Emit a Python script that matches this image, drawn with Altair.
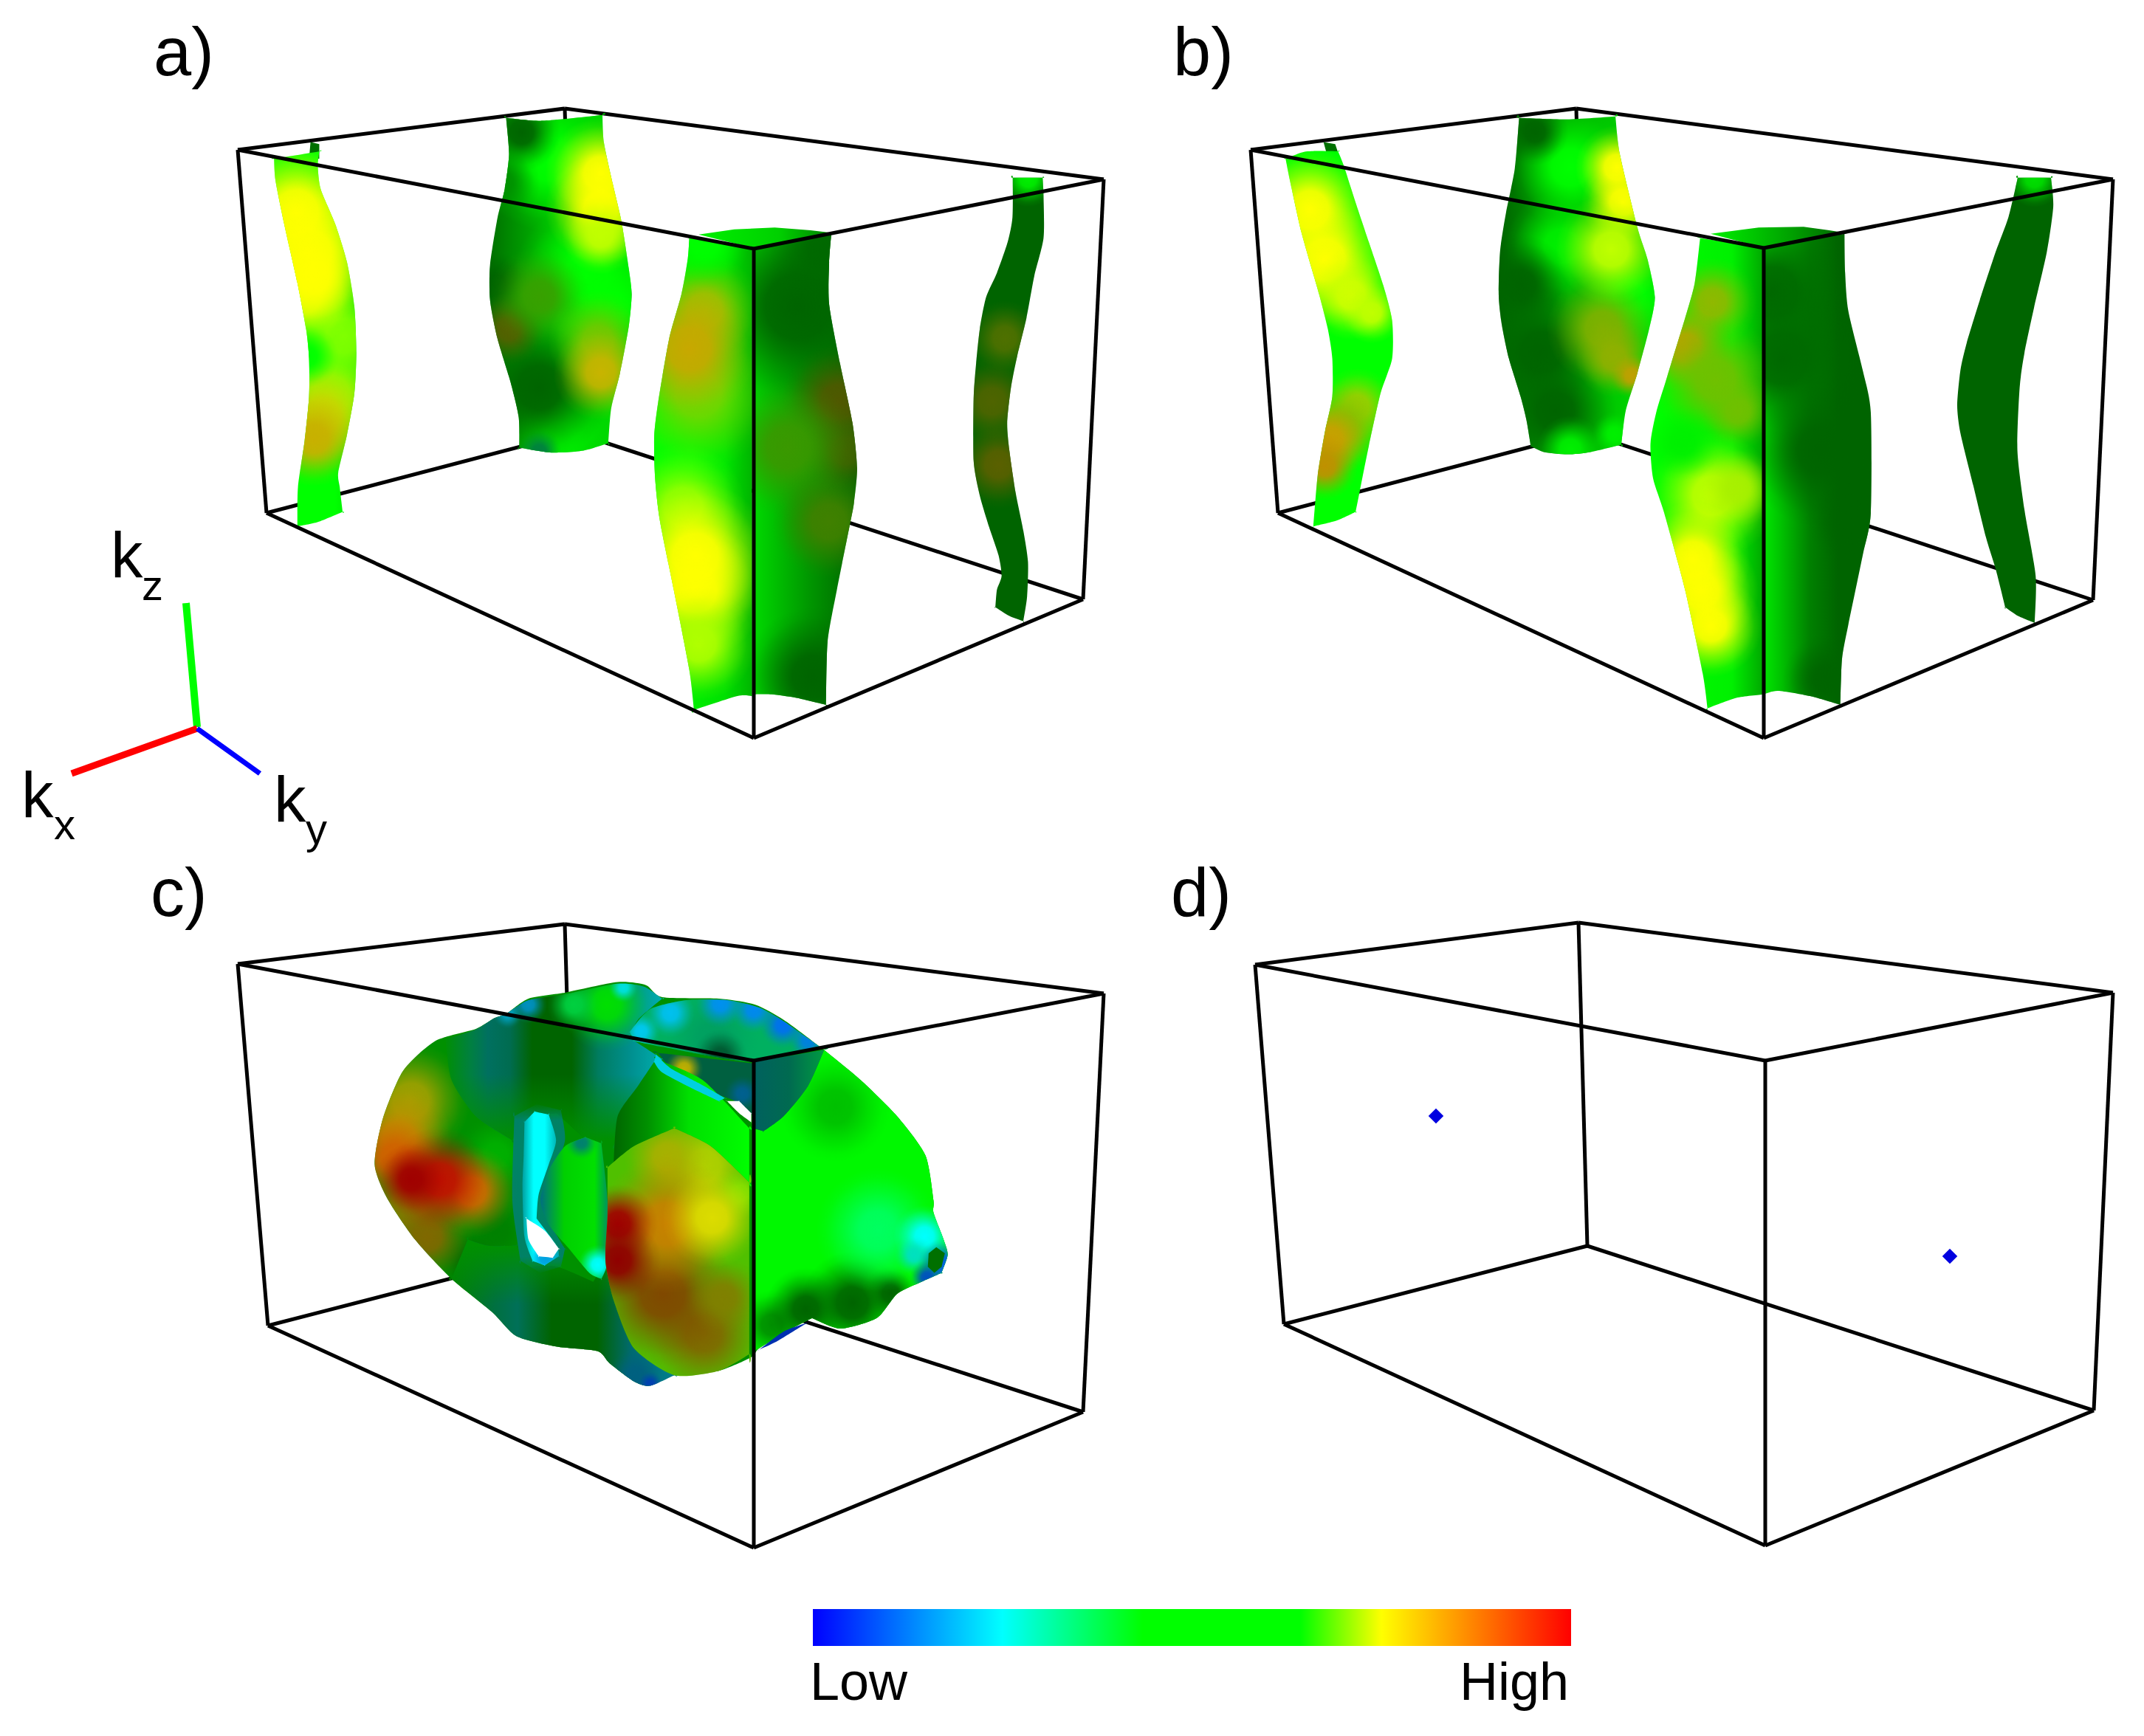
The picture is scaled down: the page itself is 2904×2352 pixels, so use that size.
import altair as alt
import pandas as pd
import math

# crops used while reading: (x0, y0, sx, sy)
C1 = (300, 130, 2.529, 2.529)
C2 = (860, 280, 2.376, 2.119)
C3 = (1680, 130, 2.529, 2.529)
C4 = (2200, 280, 2.306, 2.119)
C5 = (480, 1300, 1.823, 2.45)

# box corners: TL, BT (back top), TR, FT (front top), FB, BL, BB, BR
box_a = dict(TL=(322, 203), BT=(765, 147), TR=(1495, 243), FT=(1021, 337), FB=(1021, 1000), BL=(361, 695), BB=(778, 586), BR=(1467, 812))
box_b = dict(TL=(1694, 203), BT=(2135, 147), TR=(2862, 243), FT=(2389, 336), FB=(2389, 1000), BL=(1731, 695), BB=(2147, 586), BR=(2835, 813))
box_c = dict(TL=(322, 1306), BT=(765, 1252), TR=(1495, 1346), FT=(1021, 1437), FB=(1021, 2097), BL=(363, 1796), BB=(778, 1689), BR=(1467, 1913))
box_d = dict(TL=(1700, 1307), BT=(2138, 1250), TR=(2862, 1345), FT=(2391, 1437), FB=(2391, 2094), BL=(1739, 1794), BB=(2150, 1688), BR=(2836, 1911))
boxes = [box_a, box_b, box_c, box_d]
back_edges = [("TL", "BT"), ("BT", "TR"), ("BT", "BB"), ("BB", "BL"), ("BB", "BR")]
front_edges = [("TL", "FT"), ("FT", "TR"), ("FT", "FB"), ("TL", "BL"), ("TR", "BR"), ("BL", "FB"), ("BR", "FB")]

# ---------- panel a ----------
a1_stub = [(305, 158), (335, 165), (335, 215), (300, 215)]
a1 = [(180, 215), (185, 290), (215, 440), (260, 640), (290, 800), (300, 900), (300, 1030), (285, 1180), (262, 1340), (260, 1475),
      (330, 1460), (415, 1425), (405, 1340), (400, 1290), (430, 1160), (455, 1020), (462, 880), (455, 720), (430, 570), (390, 440),
      (340, 320), (330, 240), (335, 190)]
a1_blobs = [(380, 1020, 110, "#90ff00"), (420, 820, 100, "#80ff00"), (350, 1090, 100, "#c8d800"), (320, 1170, 85, "#c8b000"),
            (290, 690, 90, "#c8ff00"), (260, 400, 130, "#ffff00"), (300, 540, 140, "#ffff00"), (320, 620, 90, "#ffff00"),
            (300, 890, 55, "#00ff00")]
a2 = [(975, 75), (1100, 85), (1305, 65), (1310, 160), (1340, 300), (1370, 430), (1395, 590), (1405, 680), (1395, 790), (1365, 950),
      (1335, 1070), (1325, 1190), (1240, 1215), (1130, 1222), (1020, 1205), (1018, 1100), (990, 980), (945, 830), (920, 700),
      (920, 580), (945, 420), (970, 320), (985, 200)]
a2_blobs = [(1120, 220, 130, "#00ff00"), (1250, 620, 130, "#00ff00"), (1340, 720, 80, "#00ff00"), (1160, 1170, 90, "#00f000"), (1030, 130, 70, "#006400"),
            (960, 300, 70, "#009000"), (1090, 1000, 130, "#006400"), (940, 650, 60, "#006400"), (985, 800, 65, "#556000"), (1090, 690, 90, "#38a000"),
            (1290, 840, 90, "#70c800"), (1300, 950, 85, "#c8b400"), (1300, 270, 100, "#ffff00"), (1300, 390, 100, "#ffff00"), (1300, 480, 70, "#c0ff00"),
            (1090, 1218, 40, "#008040")]
a3_cap = [(205, 80), (320, 65), (450, 60), (565, 68), (635, 75), (377, 118)]
a3_left = [(175, 90), (377, 118), (377, 160), (377, 300), (377, 900), (377, 1300), (377, 1380), (377, 1405), (330, 1405), (190, 1445), (175, 1330), (125, 1100), (80, 900), (65, 780), (62, 660),
           (75, 560), (110, 380), (150, 250), (170, 150)]
a3_left_blobs = [(120, 720, 110, "#00ff00"), (220, 300, 90, "#a0c000"), (200, 540, 120, "#70d800"), (170, 410, 110, "#c8a800"), (150, 860, 100, "#90ff00"),
                 (190, 1000, 120, "#ffff00"), (190, 1100, 110, "#ffff00"), (200, 1250, 90, "#b0ff00"), (220, 110, 70, "#00ff00")]
a3_right = [(377, 118), (632, 78), (625, 160), (625, 280), (660, 450), (700, 620), (715, 750), (705, 850), (690, 920), (650, 1100),
            (620, 1250), (615, 1430), (520, 1410), (440, 1400), (377, 1400), (377, 1380), (377, 1200), (377, 700), (377, 300), (377, 160)]
a3_right_blobs = [(530, 290, 170, "#006400"), (620, 130, 90, "#006800"), (660, 560, 90, "#505800"), (680, 700, 70, "#406000"), (500, 690, 110, "#3a9800"),
                  (630, 900, 90, "#408000"), (580, 1340, 110, "#006400")]
a4 = [(1216, -83), (1215, 30), (1200, 100), (1165, 190), (1130, 260), (1110, 350), (1098, 450), (1090, 550), (1090, 730), (1110, 830),
      (1140, 920), (1170, 1000), (1180, 1060), (1165, 1100), (1160, 1150), (1205, 1175), (1250, 1190), (1262, 1120), (1265, 1020),
      (1250, 930), (1225, 820), (1205, 700), (1198, 620), (1210, 520), (1230, 430), (1260, 320), (1285, 200), (1315, 90), (1315, -30), (1312, -83)]
a4_blobs = [(1190, 380, 60, "#4f7000"), (1150, 560, 70, "#4f6400"), (1170, 740, 70, "#5a6000"), (1265, -75, 45, "#00f000")]

# ---------- panel b ----------
b1_stub = [(285, 158), (325, 165), (335, 195), (295, 195)]
b1 = [(155, 215), (170, 290), (210, 470), (270, 680), (300, 800), (315, 900), (315, 1030), (290, 1150), (265, 1300), (250, 1475),
      (330, 1455), (395, 1425), (410, 1350), (440, 1200), (480, 1020), (520, 900), (520, 770), (490, 650), (440, 500), (390, 350),
      (355, 240), (335, 190), (225, 190)]
b1_blobs = [(240, 390, 110, "#ffff00"), (290, 560, 120, "#ffff00"), (380, 680, 80, "#d0ff00"), (450, 740, 55, "#c0ff00"), (400, 1060, 70, "#a0d000"),
            (350, 1130, 80, "#80c000"), (310, 1170, 70, "#c8a000"), (290, 1260, 60, "#c09000")]
b2 = [(955, 75), (1120, 80), (1285, 70), (1300, 200), (1360, 450), (1395, 560), (1420, 690), (1400, 800), (1360, 950), (1320, 1080), (1305, 1195),
      (1200, 1220), (1120, 1228), (1040, 1220), (995, 1200), (980, 1110), (960, 1030), (920, 900), (895, 780), (885, 680), (890, 530),
      (910, 400), (940, 250)]
b2_blobs = [(1130, 250, 110, "#00ff00"), (1100, 520, 100, "#00f000"), (1330, 690, 90, "#00ff00"), (1010, 130, 60, "#006400"), (960, 650, 90, "#006400"), (1030, 880, 120, "#006400"),
            (1080, 1080, 110, "#006400"), (1240, 800, 100, "#80b000"), (1280, 900, 70, "#90b000"), (1340, 960, 40, "#c0a000"), (1130, 1210, 60, "#00f000"),
            (1290, 250, 75, "#ffff00"), (1310, 370, 75, "#ffff00"), (1270, 530, 100, "#c0ff00"), (1280, 1160, 40, "#00f000")]
b3_cap = [(270, 78), (420, 60), (560, 58), (640, 68), (690, 75), (435, 118)]
b3_left = [(237, 90), (435, 118), (435, 160), (435, 300), (435, 900), (435, 1300), (435, 1380), (435, 1400), (350, 1410), (260, 1440), (245, 1340), (190, 1100), (125, 880), (90, 780), (82, 680),
           (100, 590), (130, 500), (190, 320), (220, 220)]
b3_left_blobs = [(270, 280, 70, "#90b800"), (190, 410, 70, "#c0a000"), (280, 500, 100, "#70c000"), (350, 590, 60, "#70c000"), (270, 830, 100, "#c0ff00"),
                 (350, 810, 60, "#a8f000"), (210, 1010, 90, "#ffff00"), (235, 1100, 90, "#ffff00"), (265, 1200, 80, "#ffff00"), (180, 680, 60, "#00f000")]
b3_right = [(435, 118), (688, 78), (690, 190), (700, 300), (745, 470), (770, 590), (770, 880), (745, 1000), (700, 1200), (680, 1300),
            (675, 1430), (580, 1405), (480, 1390), (435, 1400), (435, 1380), (435, 1200), (435, 700), (435, 300), (435, 160)]
b3_right_blobs = [(470, 250, 130, "#006800"), (500, 440, 130, "#006800"), (620, 700, 120, "#006400"), (720, 900, 70, "#006400"), (640, 1350, 70, "#006400")]
b4 = [(1229, -83), (1200, 30), (1160, 130), (1110, 270), (1070, 390), (1050, 470), (1040, 570), (1050, 650), (1090, 800), (1130, 950),
      (1160, 1040), (1190, 1150), (1230, 1175), (1282, 1195), (1285, 1060), (1250, 870), (1228, 700), (1235, 520), (1250, 420),
      (1280, 290), (1320, 130), (1340, 0), (1333, -83)]
b4_blobs = [(1280, -75, 45, "#00e000")]

# ---------- panel c ----------
SHELL = "#009000"
c_shell = [(375, 180), (430, 130), (520, 110), (650, 75), (720, 85), (760, 125), (900, 130), (990, 150), (1060, 200), (1150, 290),
           (1250, 400), (1340, 520), (1410, 650), (1430, 800), (1430, 840), (1455, 930), (1465, 980), (1450, 1040), (1400, 1070),
           (1340, 1110), (1290, 1190), (1200, 1225), (1130, 1190), (1080, 1225), (1000, 1290), (980, 1320), (900, 1365), (790, 1380),
           (730, 1415), (690, 1400), (630, 1340), (600, 1300), (500, 1285), (400, 1250), (340, 1170), (240, 1060), (150, 930), (80, 790),
           (50, 680), (70, 530), (120, 370), (200, 270), (300, 230), (345, 195)]
c_shell_blobs = [(350, 650, 60, "#00b000"), (350, 900, 60, "#008000"), (280, 1000, 50, "#007000"),
                 (140, 470, 90, "#a0a000"), (110, 590, 80, "#c09000"), (100, 660, 70, "#d06000"), (130, 820, 80, "#808000"), (180, 920, 70, "#806800"),
                 (290, 770, 70, "#d07000"), (210, 730, 80, "#c01000"), (140, 730, 55, "#a00000")]
c_streak_top = [(225, 265), (300, 232), (345, 195), (375, 180), (430, 135), (520, 115), (650, 80), (715, 90), (760, 130), (700, 200), (680, 260), (760, 330), (700, 470), (640, 620), (590, 620), (500, 510),
                (420, 520), (390, 600), (300, 520), (240, 400)]
c_streak_top_x = [0, 0.12, 0.2, 0.3, 0.4, 0.58, 0.7, 0.85, 1]
c_streak_top_col = ["#009000", "#008040", "#007060", "#006c50", "#006400", "#006400", "#007c60", "#009090", "#00b0b0"]
c_top_bright_blobs = [(620, 150, 70, "#00e000"), (540, 150, 40, "#00d040"), (430, 150, 28, "#0090c0"), (660, 95, 22, "#00e0e0"), (380, 180, 22, "#00a0c0")]
c_streak_low = [(240, 1060), (340, 1170), (400, 1250), (500, 1285), (600, 1300), (630, 1340), (690, 1400), (730, 1415), (790, 1380),
                (690, 1290), (640, 1130), (620, 1000), (590, 1070), (500, 1020), (430, 1020), (400, 950), (330, 950), (280, 930)]
c_streak_low_x = [0, 0.2, 0.3, 0.45, 0.65, 0.8, 1]
c_streak_low_col = ["#008000", "#007040", "#007058", "#006400", "#006400", "#006a70", "#008090"]
c_low_blobs = [(690, 1380, 40, "#006080"), (725, 1405, 18, "#0040b0")]
c_ring_glow = [(395, 520), (450, 480), (510, 500), (520, 600), (490, 720), (470, 850), (520, 960), (510, 1020), (460, 1040), (410, 1000), (390, 800)]
c_ring = [(420, 540), (445, 505), (480, 515), (498, 600), (480, 680), (455, 780), (450, 860), (500, 950), (505, 985), (470, 1015),
          (440, 1000), (420, 920), (415, 760), (418, 650)]
c_ring_blobs = [(470, 990, 25, "#00a0e0")]
c_arc = [(480, 700), (520, 620), (570, 590), (610, 610), (625, 800), (625, 1000), (610, 1060), (580, 1040), (530, 960), (480, 880), (460, 800)]
c_arc_blobs = [(600, 1010, 30, "#00ffff"), (560, 610, 25, "#008070")]
c_lobe = [(625, 690), (690, 620), (790, 560), (880, 620), (975, 740), (975, 1310), (900, 1365), (790, 1380), (690, 1290), (640, 1130), (620, 1000), (625, 850)]
c_lobe_blobs = [(860, 1240, 90, "#806800"), (760, 1110, 110, "#804800"), (910, 1120, 60, "#808000"), (860, 690, 80, "#b0d000"), (770, 660, 65, "#a8b000"),
                (950, 780, 40, "#80e000"), (770, 880, 105, "#c88000"), (880, 860, 75, "#dcdc00"), (650, 880, 60, "#a00000"), (650, 1000, 65, "#900000")]
c_bright = [(745, 330), (860, 400), (975, 560), (975, 740), (880, 620), (790, 560), (690, 620), (640, 680), (650, 520), (700, 420)]
c_bright_x = [0, 0.25, 0.55, 1]
c_bright_col = ["#006400", "#009000", "#00e000", "#00ff00"]
c_arch = [(680, 240), (730, 165), (820, 135), (920, 135), (1000, 160), (1060, 205), (1150, 290), (985, 340), (760, 290), (690, 270)]
c_arch_blobs = [(880, 260, 70, "#00a060"), (900, 320, 40, "#005830"), (900, 150, 36, "#0090f0"), (980, 170, 34, "#0088f0"), (1050, 220, 34, "#0070f0"),
                (780, 180, 36, "#00c0f0"), (710, 240, 28, "#00c8f0"), (1110, 270, 28, "#0080e0")]
c_inner = [(750, 310), (985, 345), (985, 520), (940, 470), (880, 440), (800, 390)]
c_inner_blobs = [(820, 365, 26, "#c0b000"), (950, 440, 25, "#006090")]
c_glow = [(745, 315), (780, 360), (850, 410), (915, 460), (900, 470), (830, 425), (760, 375), (740, 340)]
c_right = [(985, 560), (1010, 570), (1060, 520), (1120, 420), (1160, 300), (1250, 400), (1340, 520), (1410, 650), (1430, 800), (1430, 840),
           (1455, 930), (1465, 980), (1450, 1040), (1400, 1070), (1340, 1110), (1290, 1190), (1200, 1225), (1130, 1190), (1080, 1225), (1000, 1290), (985, 1300)]
c_right_blobs = [(1190, 490, 80, "#00c000"), (1040, 1180, 50, "#009000"), (1120, 1130, 60, "#006400"), (1230, 1110, 75, "#006400"), (1320, 1080, 40, "#006400"),
                 (1290, 880, 90, "#00ff60"), (1400, 900, 45, "#00ffff"), (1375, 960, 28, "#00e0c0"), (1440, 985, 35, "#0060e0"), (1405, 1030, 25, "#0050c0")]
c_pocket = [(985, 340), (1160, 300), (1120, 420), (1060, 520), (1010, 570), (985, 560)]
c_pocket_x = [0, 0.5, 1]
c_pocket_col = ["#006060", "#006a50", "#00a040"]
c_cap = [(1437, 955), (1458, 975), (1450, 1020), (1432, 1040), (1416, 1020), (1418, 975)]
c_hole_1 = [(425, 860), (470, 900), (505, 960), (490, 990), (455, 985), (430, 930)]
c_hole_2 = [(920, 470), (950, 470), (980, 510), (980, 540), (950, 510)]
c_under = [(1000, 1295), (1060, 1235), (1120, 1205), (1095, 1225), (1040, 1270)]
d_points = [(1945, 1512), (2641, 1702)]

# ---------- furniture ----------
axes_lines = [(252, 817, 267, 985, "#00ff00", 10), (97, 1048, 267, 987, "#ff0000", 9), (267, 987, 352, 1048, "#0000ff", 7)]
bar_x = [1101, 2128]
bar_y = [2180, 2230]
bar_offsets = [0, 0.25, 0.435, 0.643, 0.75, 1]
bar_colors = ["#0000ff", "#00ffff", "#00ff00", "#00ff00", "#ffff00", "#ff0000"]
panel_labels = [("a)", 208, 102), ("b)", 1589, 102), ("c)", 204, 1241), ("d)", 1586, 1241)]
k_labels = [("k", 150, 782), ("k", 29, 1107), ("k", 371, 1113)]
k_subs = [("z", 192, 813), ("x", 73, 1137), ("y", 414, 1143)]
bar_labels = [("Low", 1097, 2303, "left"), ("High", 2125, 2303, "right")]

X = alt.X("x:Q", scale=alt.Scale(domain=[8, 2896], nice=False, zero=False), axis=None)
Y = alt.Y("y:Q", scale=alt.Scale(domain=[2344, 8], nice=False, zero=False), axis=None)
X2, Y2 = alt.X2("x2:Q"), alt.Y2("y2:Q")
FONT = "Liberation Sans"
BLOB_REACH = 1.9


def zm(pts, c):
    return [(c[0] + p[0] / c[2], c[1] + p[1] / c[3]) for p in pts]


def rgba(h, a):
    return f"rgba({int(h[1:3], 16)},{int(h[3:5], 16)},{int(h[5:7], 16)},{a})"


def sharpen(pts):
    """Repeat a point where the outline turns sharply, so the spline keeps the corner."""
    out = []
    n = len(pts)
    for i, p in enumerate(pts):
        a, b = pts[i - 1], pts[(i + 1) % n]
        t1 = math.atan2(p[1] - a[1], p[0] - a[0])
        t2 = math.atan2(b[1] - p[1], b[0] - p[0])
        d = abs((t2 - t1 + math.pi) % (2 * math.pi) - math.pi)
        out.append(p)
        if d > math.radians(40):
            out.append(p)
    return out


def poly(pts, fill, interp="cardinal-closed"):
    pts = sharpen(pts) if interp != "linear-closed" else pts
    df = pd.DataFrame({"x": [p[0] for p in pts], "y": [p[1] for p in pts], "o": list(range(len(pts)))})
    return alt.Chart(df).mark_line(interpolate=interp, tension=0.3, fill=fill, strokeWidth=0, strokeOpacity=0).encode(x=X, y=Y, order="o:Q")


def lin(stops, x1=0, y1=0, x2=1, y2=0):
    n = [{"offset": o, "color": c} for o, c in stops]
    return alt.LinearGradient(gradient="linear", stops=n, x1=x1, y1=y1, x2=x2, y2=y2)


def blob(pts, cx, cy, r, col):
    xs = [p[0] for p in pts]
    ys = [p[1] for p in pts]
    side = max(max(xs) - min(xs), max(ys) - min(ys))
    ox = (max(xs) + min(xs)) / 2 - side / 2
    oy = (max(ys) + min(ys)) / 2 - side / 2
    fx, fy = (cx - ox) / side, (cy - oy) / side
    stops = [{"offset": o, "color": rgba(col, a)} for o, a in [(0, 1), (0.3, 0.92), (0.6, 0.45), (0.85, 0.1), (1, 0)]]
    return alt.RadialGradient(gradient="radial", stops=stops, x1=fx, y1=fy, x2=fx, y2=fy, r1=0, r2=r * BLOB_REACH / side)


def surface(raw, crop, base, blobs=(), interp="cardinal-closed"):
    pts = zm(raw, crop)
    out = [poly(pts, base, interp)]
    k = (crop[2] + crop[3]) / 2
    for b in blobs:
        cx, cy = zm([(b[0], b[1])], crop)[0]
        out.append(poly(pts, blob(pts, cx, cy, b[2] / k, b[3]), interp))
    return out


def edges(names):
    rows = []
    for bx in boxes:
        for a, b in names:
            rows.append({"x": bx[a][0], "y": bx[a][1], "x2": bx[b][0], "y2": bx[b][1]})
    return alt.Chart(pd.DataFrame(rows)).mark_rule(color="#000000", strokeWidth=5).encode(x=X, y=Y, x2=X2, y2=Y2)


def texts(rows, size, align="left"):
    df = pd.DataFrame(rows, columns=["t", "x", "y"])
    return alt.Chart(df).mark_text(font=FONT, fontSize=size, align=align, baseline="alphabetic", color="#000000").encode(x=X, y=Y, text="t:N")


def fade(color, stops):
    """Vertical fade of a zone into the colour around it, stops = (offset, alpha)."""
    return lin([(o, rgba(color, a)) for o, a in stops], x1=0, y1=0, x2=0, y2=1)


layers = [edges(back_edges)]
G = "#00ff00"
D = "#006400"

layers += surface(a1_stub, C1, "#007000", interp="linear-closed")
layers += surface(a1, C1, lin([(0, "#00ff00"), (0.75, "#00ff00"), (1, "#00e000")]), a1_blobs)
layers += surface(a2, C1, lin([(0, "#007000"), (0.5, "#00c800"), (1, "#00e000")]), a2_blobs)
layers += surface(a4, C2, D, a4_blobs)
layers += surface(a3_cap, C2, lin([(0, "#00f000"), (0.6, "#00d000"), (1, "#008000")]), interp="linear-closed")
layers += surface(a3_left, C2, lin([(0, "#00ff00"), (0.7, "#00e000"), (1, "#00b000")]), a3_left_blobs)
layers += surface(a3_right, C2, lin([(0, "#00e000"), (0.55, "#009800"), (1, "#006400")]), a3_right_blobs)

layers += surface(b1_stub, C3, "#007000", interp="linear-closed")
layers += surface(b1, C3, G, b1_blobs)
layers += surface(b2, C3, lin([(0, "#006400"), (0.45, "#00b000"), (1, "#00e000")]), b2_blobs)
layers += surface(b4, C4, D, b4_blobs)
layers += surface(b3_cap, C4, lin([(0, "#00f000"), (0.6, "#00a000"), (1, "#006400")]), interp="linear-closed")
layers += surface(b3_left, C4, lin([(0, "#00ff00"), (0.7, "#00f000"), (1, "#00a000")]), b3_left_blobs)
layers += surface(b3_right, C4, lin([(0, "#00f000"), (0.2, "#00c000"), (0.45, "#008000"), (0.7, "#006400"), (1, "#006400")]), b3_right_blobs)

layers += surface(c_shell, C5, SHELL, c_shell_blobs)
layers += surface(c_streak_top, C5, lin(list(zip(c_streak_top_x, c_streak_top_col))))
layers += surface(c_streak_top, C5, fade(SHELL, [(0, 0), (0.55, 0), (0.95, 1), (1, 1)]), c_top_bright_blobs)
layers += surface(c_streak_low, C5, lin(list(zip(c_streak_low_x, c_streak_low_col))))
layers += surface(c_streak_low, C5, fade(SHELL, [(0, 1), (0.05, 1), (0.45, 0), (1, 0)]), c_low_blobs)
layers += surface(c_arch, C5, "#00b060", c_arch_blobs)
layers += surface(c_inner, C5, "#006040", c_inner_blobs)
layers += surface(c_bright, C5, lin(list(zip(c_bright_x, c_bright_col))))
layers += surface(c_glow, C5, "#00d0e0")
layers += surface(c_ring_glow, C5, fade("#008070", [(0, 0), (0.1, 0.9), (0.9, 0.9), (1, 0)]))
layers += surface(c_ring, C5, lin([(0, "#00a0a0"), (0.3, "#00ffff"), (0.6, "#00ffff"), (1, "#00a0a0")]), c_ring_blobs)
layers += surface(c_arc, C5, lin([(0, "#007080"), (0.35, "#00d000"), (0.8, "#00e000"), (1, "#009060")]), c_arc_blobs)
layers += surface(c_lobe, C5, "#50c000", c_lobe_blobs)
layers += surface(c_right, C5, "#00f800", c_right_blobs)
layers += surface(c_pocket, C5, lin(list(zip(c_pocket_x, c_pocket_col))))
layers += surface(c_under, C5, "#0030b0")
layers += surface(c_cap, C5, "#007000", interp="linear-closed")
layers += surface(c_hole_1, C5, "#ffffff")
layers += surface(c_hole_2, C5, "#ffffff")

for ax in axes_lines:
    layers.append(alt.Chart(pd.DataFrame([{"x": ax[0], "y": ax[1], "x2": ax[2], "y2": ax[3]}]))
                  .mark_rule(color=ax[4], strokeWidth=ax[5]).encode(x=X, y=Y, x2=X2, y2=Y2))

layers.append(alt.Chart(pd.DataFrame({"x": [p[0] for p in d_points], "y": [p[1] for p in d_points]}))
              .mark_point(filled=True, shape="diamond", size=420, color="#0000e0", opacity=1).encode(x=X, y=Y))

layers.append(edges(front_edges))

layers.append(alt.Chart(pd.DataFrame({"x": [bar_x[0]], "x2": [bar_x[1]], "y": [bar_y[0]], "y2": [bar_y[1]]}))
              .mark_rect(fill=lin(list(zip(bar_offsets, bar_colors)))).encode(x=X, y=Y, x2=X2, y2=Y2))

layers.append(texts(panel_labels, 92))
layers.append(texts(k_labels, 87))
layers.append(texts(k_subs, 58))
layers.append(texts([b[:3] for b in bar_labels if b[3] == "left"], 72))
layers.append(texts([b[:3] for b in bar_labels if b[3] == "right"], 72, "right"))

chart = alt.layer(*layers).properties(width=2888, height=2336, padding=0, background="#ffffff",
                                      autosize=alt.AutoSizeParams(type="none")).configure_view(strokeWidth=0)
chart.save("out.html", embed_options={"renderer": "svg", "actions": False})
